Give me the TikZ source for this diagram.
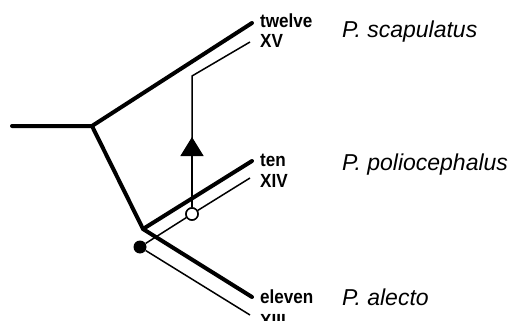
\documentclass[tikz,border=0pt]{standalone}
\usepackage{fontspec}
\setmainfont{Liberation Sans}
\newfontfamily\lblfont[FakeStretch=0.9]{Liberation Sans}
\usetikzlibrary{arrows.meta}

\begin{document}
\begin{tikzpicture}[x=1pt,y=-1pt,>=Latex,
  branch/.style={line width=4pt,line cap=round,line join=round},
  gene/.style={line width=1.5pt,line join=miter},
  lbl/.style={anchor=base west,inner sep=0pt,font=\lblfont\fontsize{19}{19}\bfseries\selectfont},
  taxon/.style={anchor=west,inner sep=0pt,font=\fontsize{23}{23}\itshape\selectfont}]
\useasboundingbox (0,0) rectangle (517,321);
% species tree
\coordinate (root) at (12,126);\coordinate (n1) at (92,126);\coordinate (n2) at (143,229);
\coordinate (sca) at (252,23);\coordinate (pol) at (252,161);\coordinate (ale) at (252,297);
\draw[branch] (root)--(n1)--(sca);\draw[branch] (n1)--(n2)--(pol);\draw[branch] (n2)--(ale);
% gene tree
\node[circle,fill,inner sep=0pt,minimum size=13pt] (dup) at (140,247){};
\coordinate (xiv) at (250,178);\coordinate (xiii) at (250,315);
\coordinate (bend) at (192,76);\coordinate (xv) at (250,42);
\node[circle,draw,fill=white,line width=1.5pt,inner sep=0pt,minimum size=12pt] (sw) at (192,214){};
\draw[gene] (dup)--(sw)--(xiv);\draw[gene] (dup)--(xiii);
\draw[gene] (sw)--(bend)--(xv);
\coordinate (tip) at (192,137);
\draw[gene,-{Triangle[width=23pt,length=19pt]}] (sw)--(tip);
\node[circle,draw,fill=white,line width=1.5pt,inner sep=0pt,minimum size=12pt] at (sw){};
% labels
\node[lbl] (l12) at (260,28){twelve};\node[lbl] (lxv) at (260,48){XV};
\node[lbl] (l10) at (260,166){ten};\node[lbl] (lxiv) at (260,187){XIV};
\node[lbl] (l11) at (260,303){eleven};\node[lbl] (lxiii) at (260,327){XIII};
\node[taxon] (tsca) at (342,32){P. scapulatus};
\node[taxon] (tpol) at (342,165){P. poliocephalus};
\node[taxon] (tale) at (342,297){P. alecto};
\end{tikzpicture}
\end{document}
